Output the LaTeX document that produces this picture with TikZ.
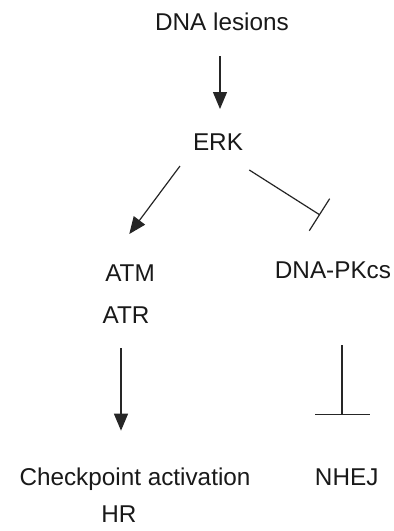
\documentclass[tikz,border=0pt]{standalone}
\usepackage{fontspec}
\setmainfont{Liberation Sans}
\usetikzlibrary{arrows.meta}
\begin{document}
\begin{tikzpicture}[x=1pt,y=1pt,
  lbl/.style={anchor=base,inner sep=0pt,font=\fontsize{24.3}{29}\selectfont,text=black!90},
  conn/.style={line width=1.2pt,draw=black!85},
  act/.style={conn,-{Triangle[length=17pt,width=14pt]}},
  inh/.style={conn,-{Bar[width=38pt,line width=1.2pt]}},
  inhb/.style={conn,-{Bar[width=55pt,line width=1.2pt]}}]
\useasboundingbox (0,0) rectangle (394,-531);
\node[lbl] (dna) at (222,-30.7) {DNA lesions};
\node[lbl] (erk) at (218,-150) {ERK};
\node[lbl] (atm) at (130,-281.7) {ATM};
\node[lbl] (atr) at (126,-323.3) {ATR};
\node[lbl] (pk) at (333,-278) {DNA-PKcs};
\node[lbl] (chk) at (135,-485) {Checkpoint activation};
\node[lbl] (nhej) at (346.7,-485) {NHEJ};
\node[lbl] (hr) at (119,-522.5) {HR};
% connector ends
\coordinate (a1s) at (220,-56);
\coordinate (a1e) at (220,-109);
\coordinate (a2s) at (180,-166);
\coordinate (a2e) at (129.3,-234);
\coordinate (i1s) at (249.3,-170);
\coordinate (i1e) at (320,-215);
\coordinate (a3s) at (121,-348);
\coordinate (a3e) at (121,-430.7);
\coordinate (i2s) at (342,-345);
\coordinate (i2e) at (342,-415);
\draw[act] (a1s) -- (a1e);
\draw[act] (a2s) -- (a2e);
\draw[inh] (i1s) -- (i1e);
\draw[act] (a3s) -- (a3e);
\draw[inhb] (i2s) -- (i2e);
\end{tikzpicture}
\end{document}
